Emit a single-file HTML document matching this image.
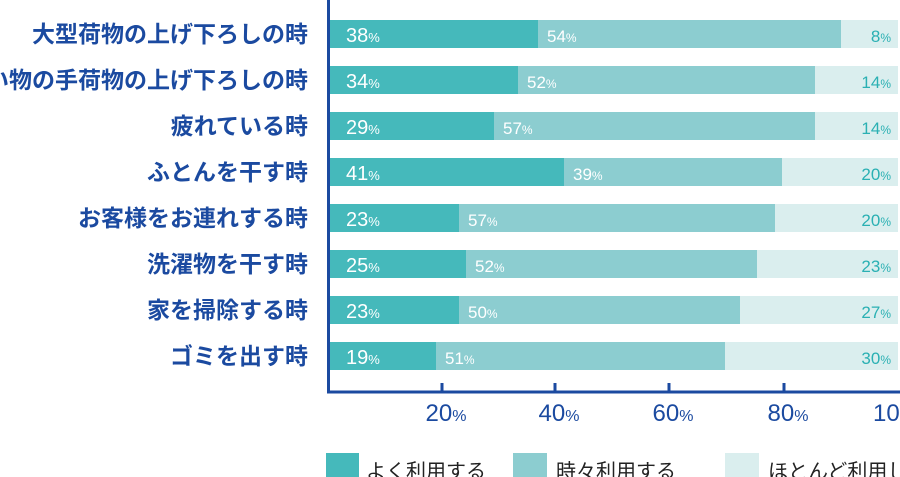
<!DOCTYPE html>
<html><head><meta charset="utf-8"><style>
html,body{margin:0;padding:0;background:#fff;width:900px;height:477px;overflow:hidden}
svg{display:block}
text{font-family:"Liberation Sans","Noto Sans CJK JP",sans-serif}
</style></head><body>
<svg width="900" height="477" viewBox="0 0 900 477">
<g font-size="23" fill="#1b4aa0" text-anchor="end" font-weight="bold">
<text x="308" y="42">大型荷物の上げ下ろしの時</text>
<text x="308" y="88">重い物の手荷物の上げ下ろしの時</text>
<text x="308" y="134">疲れている時</text>
<text x="308" y="180">ふとんを干す時</text>
<text x="308" y="226">お客様をお連れする時</text>
<text x="308" y="272">洗濯物を干す時</text>
<text x="308" y="318">家を掃除する時</text>
<text x="308" y="364">ゴミを出す時</text>
</g>
<g>
<rect x="329" y="20" width="209" height="28" fill="#45b9bb"/><rect x="538" y="20" width="303" height="28" fill="#8ccdd0"/><rect x="841" y="20" width="57" height="28" fill="#daeeee"/>
<rect x="329" y="66" width="189" height="28" fill="#45b9bb"/><rect x="518" y="66" width="297" height="28" fill="#8ccdd0"/><rect x="815" y="66" width="83" height="28" fill="#daeeee"/>
<rect x="329" y="112" width="165" height="28" fill="#45b9bb"/><rect x="494" y="112" width="321" height="28" fill="#8ccdd0"/><rect x="815" y="112" width="83" height="28" fill="#daeeee"/>
<rect x="329" y="158" width="235" height="28" fill="#45b9bb"/><rect x="564" y="158" width="218" height="28" fill="#8ccdd0"/><rect x="782" y="158" width="116" height="28" fill="#daeeee"/>
<rect x="329" y="204" width="130" height="28" fill="#45b9bb"/><rect x="459" y="204" width="316" height="28" fill="#8ccdd0"/><rect x="775" y="204" width="123" height="28" fill="#daeeee"/>
<rect x="329" y="250" width="137" height="28" fill="#45b9bb"/><rect x="466" y="250" width="291" height="28" fill="#8ccdd0"/><rect x="757" y="250" width="141" height="28" fill="#daeeee"/>
<rect x="329" y="296" width="130" height="28" fill="#45b9bb"/><rect x="459" y="296" width="281" height="28" fill="#8ccdd0"/><rect x="740" y="296" width="158" height="28" fill="#daeeee"/>
<rect x="329" y="342" width="107" height="28" fill="#45b9bb"/><rect x="436" y="342" width="289" height="28" fill="#8ccdd0"/><rect x="725" y="342" width="173" height="28" fill="#daeeee"/>
</g>
<g fill="#fff" font-size="20">
<text x="346" y="42">38<tspan font-size="13">%</tspan></text><text x="547" y="42" font-size="17">54<tspan font-size="12">%</tspan></text>
<text x="346" y="88">34<tspan font-size="13">%</tspan></text><text x="527" y="88" font-size="17">52<tspan font-size="12">%</tspan></text>
<text x="346" y="134">29<tspan font-size="13">%</tspan></text><text x="503" y="134" font-size="17">57<tspan font-size="12">%</tspan></text>
<text x="346" y="180">41<tspan font-size="13">%</tspan></text><text x="573" y="180" font-size="17">39<tspan font-size="12">%</tspan></text>
<text x="346" y="226">23<tspan font-size="13">%</tspan></text><text x="468" y="226" font-size="17">57<tspan font-size="12">%</tspan></text>
<text x="346" y="272">25<tspan font-size="13">%</tspan></text><text x="475" y="272" font-size="17">52<tspan font-size="12">%</tspan></text>
<text x="346" y="318">23<tspan font-size="13">%</tspan></text><text x="468" y="318" font-size="17">50<tspan font-size="12">%</tspan></text>
<text x="346" y="364">19<tspan font-size="13">%</tspan></text><text x="445" y="364" font-size="17">51<tspan font-size="12">%</tspan></text>
</g>
<g fill="#2ab0b3" font-size="17" text-anchor="end">
<text x="891" y="42">8<tspan font-size="12">%</tspan></text>
<text x="891" y="88">14<tspan font-size="12">%</tspan></text>
<text x="891" y="134">14<tspan font-size="12">%</tspan></text>
<text x="891" y="180">20<tspan font-size="12">%</tspan></text>
<text x="891" y="226">20<tspan font-size="12">%</tspan></text>
<text x="891" y="272">23<tspan font-size="12">%</tspan></text>
<text x="891" y="318">27<tspan font-size="12">%</tspan></text>
<text x="891" y="364">30<tspan font-size="12">%</tspan></text>
</g>
<g stroke="#1b4aa0" stroke-width="3" fill="none">
<line x1="328.5" y1="0" x2="328.5" y2="393"/>
<line x1="327" y1="392" x2="900" y2="392"/>
<line x1="442" y1="383" x2="442" y2="392"/>
<line x1="555" y1="383" x2="555" y2="392"/>
<line x1="669" y1="383" x2="669" y2="392"/>
<line x1="784" y1="383" x2="784" y2="392"/>
</g>
<g fill="#1b4aa0" font-size="24" text-anchor="middle">
<text x="446" y="421">20<tspan font-size="16">%</tspan></text>
<text x="559" y="421">40<tspan font-size="16">%</tspan></text>
<text x="673" y="421">60<tspan font-size="16">%</tspan></text>
<text x="788" y="421">80<tspan font-size="16">%</tspan></text>
<text x="873" y="421" text-anchor="start">100</text>
</g>
<rect x="326" y="453" width="33" height="30" fill="#45b9bb"/>
<rect x="513" y="453" width="34" height="30" fill="#8ccdd0"/>
<rect x="725" y="453" width="34" height="30" fill="#daeeee"/>
<g fill="#222" font-size="20">
<text x="366" y="478">よく利用する</text>
<text x="556" y="478">時々利用する</text>
<text x="768" y="478">ほとんど利用しない</text>
</g>
</svg>
</body></html>
